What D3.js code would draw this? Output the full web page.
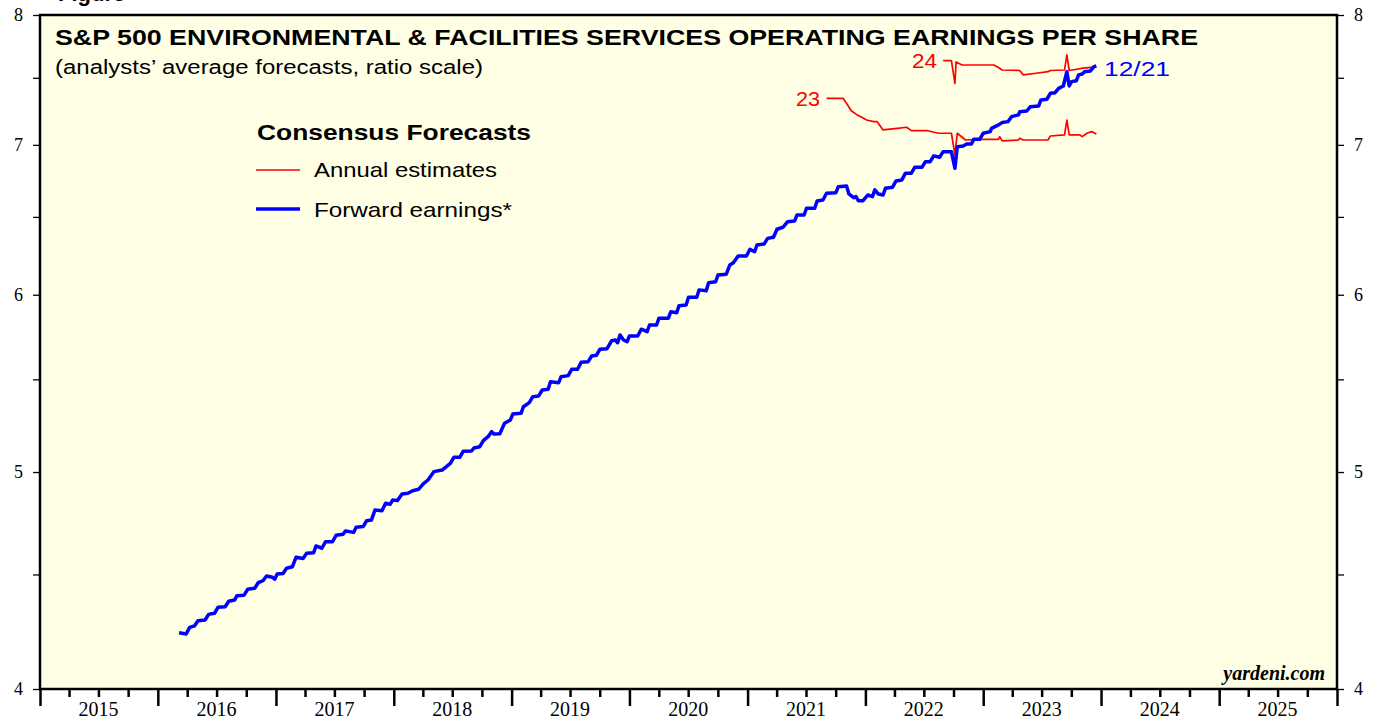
<!DOCTYPE html>
<html><head><meta charset="utf-8">
<script src="https://cdn.jsdelivr.net/npm/d3@7"></script>
<style>
html,body{margin:0;padding:0;background:#fff;}
svg{display:block;}
</style></head>
<body>
<svg id="chart" width="1380" height="719"></svg>
<script>
// ---- DATA (decimal years, EPS values) ----
const fwdYears = [2016.18,2016.24,2016.27,2016.31,2016.34,2016.40,2016.43,2016.48,2016.51,2016.57,2016.60,2016.65,2016.67,2016.73,2016.76,2016.82,2016.85,2016.89,2016.92,2016.97,2016.99,
2017.01,2017.06,2017.09,2017.14,2017.17,2017.23,2017.26,2017.32,2017.34,2017.39,2017.42,2017.48,2017.51,2017.57,2017.59,2017.66,2017.68,2017.74,2017.77,2017.81,2017.84,2017.90,2017.93,2017.97,2017.99,
2018.03,2018.07,2018.12,2018.16,2018.21,2018.25,2018.29,2018.34,2018.41,2018.48,2018.51,2018.56,2018.59,2018.66,2018.68,2018.73,2018.76,2018.80,2018.83,2018.85,2018.90,2018.94,2018.99,
2019.01,2019.08,2019.10,2019.15,2019.18,2019.23,2019.26,2019.31,2019.33,2019.40,2019.42,2019.48,2019.51,2019.56,2019.59,2019.65,2019.68,2019.72,2019.75,2019.81,2019.85,2019.88,2019.90,2019.92,2019.95,2019.98,
2020.00,2020.07,2020.10,2020.15,2020.17,2020.23,2020.25,2020.33,2020.35,2020.40,2020.42,2020.48,2020.50,2020.57,2020.59,2020.65,2020.67,2020.73,2020.75,2020.82,2020.85,2020.88,2020.92,2020.99,
2021.02,2021.06,2021.08,2021.14,2021.17,2021.22,2021.25,2021.30,2021.34,2021.40,2021.42,2021.48,2021.50,2021.57,2021.59,2021.64,2021.67,2021.75,2021.77,2021.84,2021.86,2021.90,2021.92,2021.94,2021.98,
2022.02,2022.06,2022.08,2022.11,2022.15,2022.17,2022.23,2022.26,2022.31,2022.34,2022.39,2022.42,2022.48,2022.51,2022.55,2022.58,2022.63,2022.66,2022.73,2022.76,2022.78,2022.83,2022.86,2022.90,2022.92,2022.97,
2023.00,2023.06,2023.07,2023.13,2023.16,2023.21,2023.24,2023.30,2023.31,2023.37,2023.40,2023.47,2023.49,2023.54,2023.57,2023.61,2023.64,2023.68,2023.71,2023.73,2023.75,2023.79,2023.81,2023.84,2023.86,2023.91,2023.94,2023.96];
const fwdValues = [4.238,4.233,4.262,4.268,4.291,4.294,4.319,4.324,4.351,4.353,4.378,4.383,4.403,4.405,4.432,4.437,4.462,4.471,4.493,4.487,4.478,
4.502,4.505,4.529,4.536,4.580,4.575,4.599,4.602,4.634,4.623,4.654,4.654,4.685,4.690,4.706,4.699,4.724,4.727,4.756,4.759,4.808,4.805,4.842,4.837,4.858,
4.855,4.888,4.892,4.905,4.912,4.939,4.959,5.002,5.010,5.045,5.076,5.076,5.108,5.109,5.125,5.132,5.164,5.185,5.212,5.199,5.201,5.257,5.275,
5.307,5.311,5.347,5.370,5.403,5.407,5.440,5.444,5.487,5.481,5.515,5.521,5.557,5.557,5.597,5.601,5.634,5.638,5.673,5.676,5.723,5.727,5.711,5.757,5.727,5.717,
5.751,5.751,5.791,5.776,5.816,5.816,5.857,5.857,5.896,5.890,5.933,5.937,5.984,5.984,6.030,6.025,6.075,6.081,6.123,6.128,6.187,6.201,6.244,6.244,
6.287,6.271,6.315,6.321,6.358,6.365,6.418,6.431,6.468,6.473,6.513,6.513,6.558,6.558,6.607,6.614,6.660,6.664,6.705,6.710,6.655,6.630,6.637,6.609,6.609,
6.648,6.637,6.683,6.655,6.648,6.694,6.701,6.745,6.752,6.799,6.799,6.841,6.841,6.880,6.880,6.921,6.911,6.951,6.951,6.833,6.987,6.992,7.006,7.006,7.040,7.040,
7.084,7.096,7.120,7.145,7.162,7.169,7.206,7.219,7.243,7.248,7.280,7.285,7.331,7.336,7.381,7.386,7.419,7.437,7.547,7.437,7.470,7.477,7.522,7.529,7.547,7.553,7.586,7.591];

const est23Years = [2021.67,2021.81,2021.84,2021.88,2021.93,2021.97,2022.01,2022.07,2022.10,2022.15,2022.27,2022.35,2022.39,2022.52,2022.62,2022.73,2022.76,2022.78,2022.85,2022.97,2023.13,2023.14,2023.16,2023.30,2023.31,2023.34,2023.55,2023.57,2023.69,2023.71,2023.73,2023.82,2023.84,2023.88,2023.92,2023.96];
const est23Values = [7.343,7.343,7.306,7.250,7.219,7.201,7.181,7.169,7.169,7.108,7.120,7.128,7.103,7.104,7.084,7.084,6.928,7.084,7.035,7.040,7.040,7.059,7.028,7.035,7.048,7.035,7.035,7.064,7.072,7.181,7.072,7.072,7.059,7.084,7.096,7.079];

const est24Years = [2022.66,2022.73,2022.76,2022.77,2022.82,2023.09,2023.13,2023.16,2023.31,2023.34,2023.45,2023.55,2023.57,2023.69,2023.71,2023.73,2023.85,2023.96];
const est24Values = [7.633,7.633,7.457,7.623,7.599,7.599,7.580,7.560,7.556,7.522,7.535,7.547,7.556,7.560,7.678,7.556,7.574,7.584];

const yMajorTicks = [4,5,6,7,8];
const yMinorTicks = [4.5,5.5,6.5,7.5];
const yearLabels = [2015,2016,2017,2018,2019,2020,2021,2022,2023,2024,2025];

// ---- LAYOUT ----
const L = 40, R = 1337, T = 15, B = 689;
const svg = d3.select("#chart");

function toDate(dy){
  const y = Math.floor(dy);
  const s = new Date(y,0,1), e = new Date(y+1,0,1);
  return new Date(s.getTime() + (dy-y)*(e-s));
}

const x = d3.scaleTime().domain([new Date(2015,0,1), new Date(2026,0,1)]).range([L,R]);
const y = d3.scaleLog().domain([4,8]).range([B,T]);

// plot background
svg.append("rect").attr("x",L).attr("y",T).attr("width",R-L).attr("height",B-T).attr("fill","#ffffe5");

const sans = "Liberation Sans, Arial, sans-serif";
const serif = "Liberation Serif, Times New Roman, serif";

// cut-off figure label at top
svg.append("text").attr("x",58).attr("y",1).attr("font-family",sans)
  .attr("font-weight","bold").attr("font-size",22).attr("fill","#000").text("Figure");

// lines
const line = d3.line().x(d=>x(toDate(d[0]))).y(d=>y(d[1]));
const fwd = fwdYears.map((v,i)=>[v,fwdValues[i]]);
const e23 = est23Years.map((v,i)=>[v,est23Values[i]]);
const e24 = est24Years.map((v,i)=>[v,est24Values[i]]);

svg.append("path").datum(e23).attr("d",line).attr("fill","none").attr("stroke","#ff0000").attr("stroke-width",1.7).attr("stroke-linejoin","round");
svg.append("path").datum(e24).attr("d",line).attr("fill","none").attr("stroke","#ff0000").attr("stroke-width",1.7).attr("stroke-linejoin","round");
svg.append("path").datum(fwd).attr("d",line).attr("fill","none").attr("stroke","#0000ff").attr("stroke-width",3.5).attr("stroke-linejoin","round");

// frame
svg.append("rect").attr("x",L).attr("y",T).attr("width",R-L).attr("height",B-T)
  .attr("fill","none").attr("stroke","#000").attr("stroke-width",2.5);

// Y axes
function yAxis(axisGen, xpos){
  const gMaj = svg.append("g").attr("transform",`translate(${xpos},0)`)
    .call(axisGen(y).tickValues(yMajorTicks).tickFormat(d3.format("d")).tickSize(7).tickPadding(10));
  const gMin = svg.append("g").attr("transform",`translate(${xpos},0)`)
    .call(axisGen(y).tickValues(yMinorTicks).tickFormat("").tickSize(7));
  [gMaj,gMin].forEach(g=>{
    g.select(".domain").remove();
    g.selectAll("line").attr("stroke","#000").attr("stroke-width",1.3);
    g.selectAll("text").attr("font-family",serif).attr("font-size",18).attr("fill","#000");
  });
}
yAxis(d3.axisLeft, L);
yAxis(d3.axisRight, R);

// X axis ticks
const quarterTicks = [];
for (let yr=2015; yr<=2026; yr++) for (let q=0;q<4;q++){ if (yr===2026 && q>0) break; quarterTicks.push(new Date(yr,q*3,1)); }
const gx = svg.append("g").attr("transform",`translate(0,${B})`)
  .call(d3.axisBottom(x).tickValues(quarterTicks).tickFormat("").tickSize(8));
gx.select(".domain").remove();
gx.selectAll(".tick line").attr("stroke","#000").attr("stroke-width",2.5)
  .attr("y2",d=>d.getMonth()===0?17:8);
svg.append("g").selectAll("text").data(yearLabels).join("text")
  .attr("x",d=>x(new Date(d,6,1))).attr("y",716).attr("text-anchor","middle")
  .attr("font-family",serif).attr("font-size",20).attr("fill","#000").text(d=>d);

// Titles
function txt(xp, yp, size, str, len, opts={}){
  const t = svg.append("text").attr("x",xp).attr("y",yp).attr("font-family",opts.family||sans)
    .attr("font-size",size).attr("fill",opts.fill||"#000").text(str);
  if (opts.bold) t.attr("font-weight","bold");
  if (opts.anchor) t.attr("text-anchor",opts.anchor);
  if (len) t.attr("textLength",len).attr("lengthAdjust","spacingAndGlyphs");
  return t;
}
txt(55,45,22.5,"S&P 500 ENVIRONMENTAL & FACILITIES SERVICES OPERATING EARNINGS PER SHARE",1143,{bold:true});
txt(55,74,20,"(analysts\u2019 average forecasts, ratio scale)",428);

// Legend
txt(257,140,21.5,"Consensus Forecasts",274,{bold:true});
svg.append("line").attr("x1",256).attr("x2",300).attr("y1",170).attr("y2",170).attr("stroke","#ff0000").attr("stroke-width",1.7);
txt(314,177,21,"Annual estimates",183);
svg.append("line").attr("x1",256).attr("x2",300).attr("y1",209).attr("y2",209).attr("stroke","#0000ff").attr("stroke-width",3.5);
txt(314,217,21,"Forward earnings*",198);

// Line labels
txt(912,68,20,"24",25,{fill:"#ff0000"});
txt(796,106,20,"23",24,{fill:"#ff0000"});
txt(1104,76,20,"12/21",66,{fill:"#0000ff"});

// source
svg.append("text").attr("x",1325).attr("y",680).attr("text-anchor","end").attr("font-family",serif)
  .attr("font-weight","bold").attr("font-style","italic").attr("font-size",20).text("yardeni.com");
</script>
</body></html>
